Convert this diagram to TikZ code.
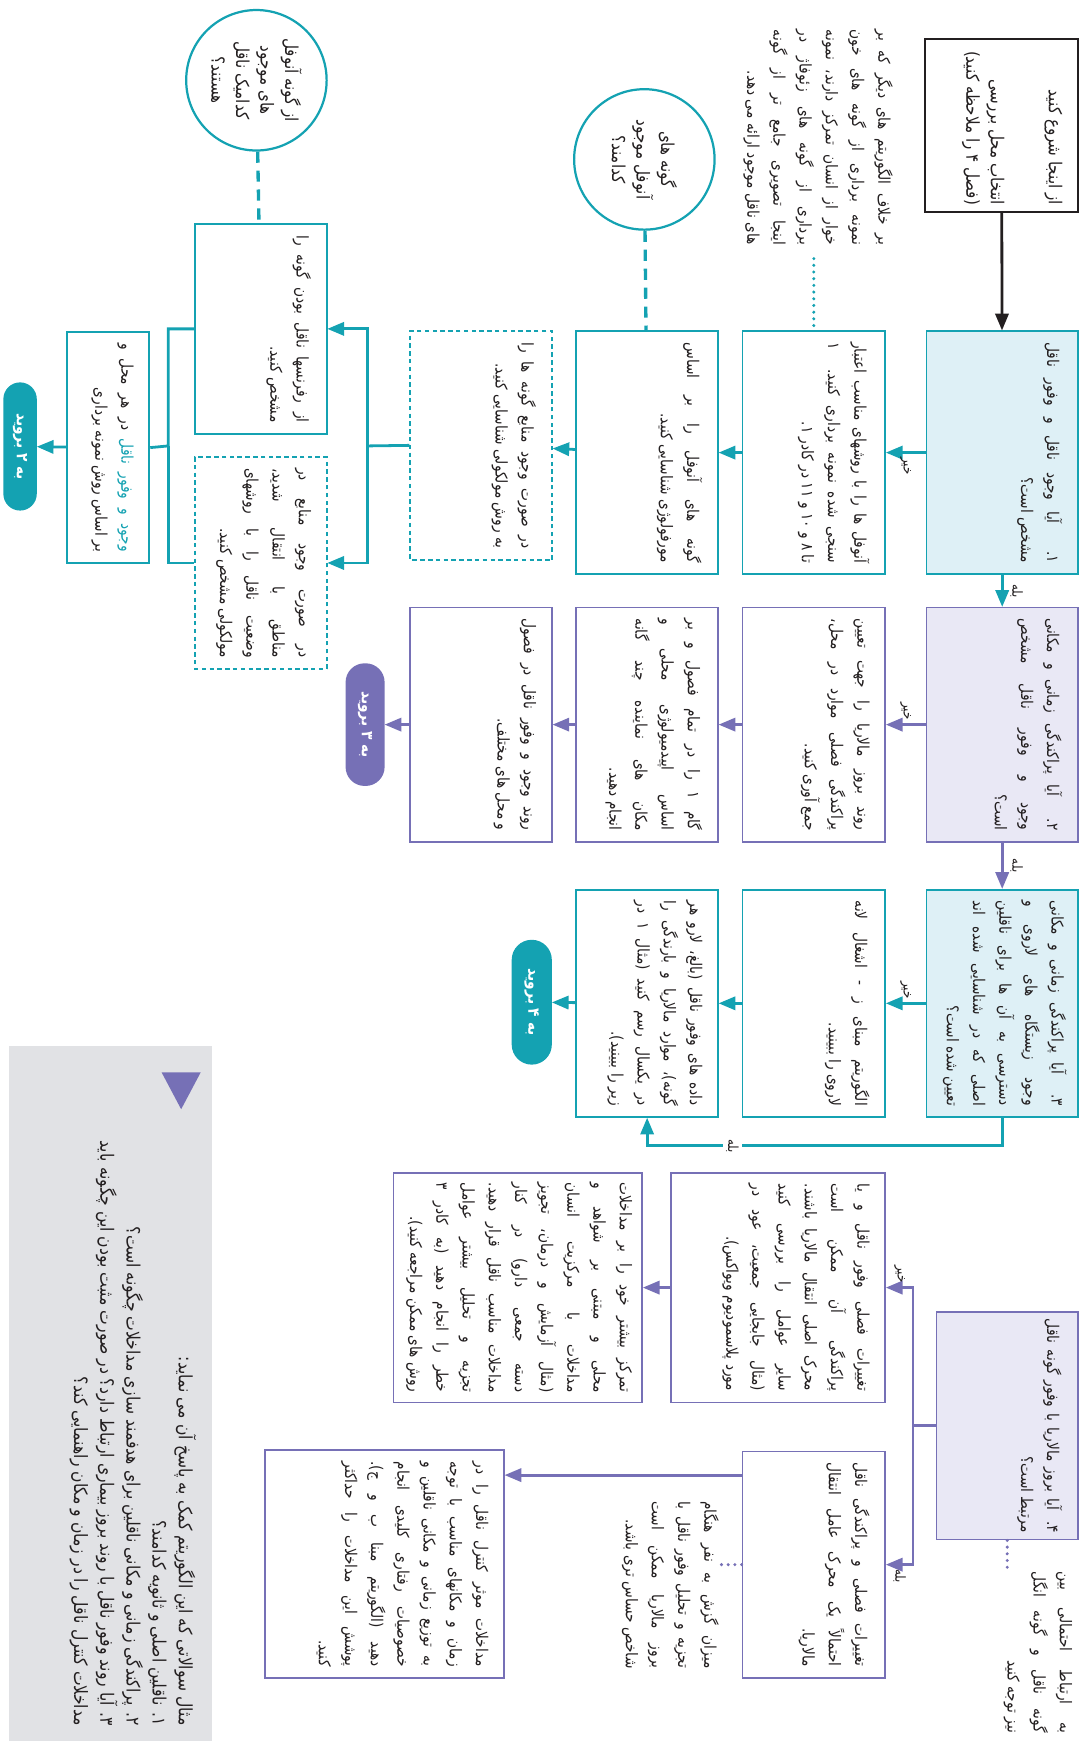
\documentclass[tikz,border=0pt]{standalone}
\usepackage{fontspec}
\usetikzlibrary{arrows,calc}
\newfontfamily\fa[Script=Arabic,FakeStretch=0.85]{DejaVu Sans}
\TeXXeTstate=1
\definecolor{fteal}{RGB}{20,162,178}
\definecolor{lblue}{RGB}{222,240,246}
\definecolor{fpurple}{RGB}{118,112,182}
\definecolor{lpurple}{RGB}{233,232,245}
\definecolor{lgray}{RGB}{225,226,229}
\definecolor{ink}{RGB}{35,31,32}
\newcommand\rl[1]{\beginR#1\endR}
\newcommand\fullln[1]{\hbox to\linewidth{\beginR#1\endR}}
\newcommand\lastln[1]{\hbox to\linewidth{\hfill\beginR#1\endR}}
\newcommand\bx[3]{\begin{minipage}[t][#2pt][t]{#1pt}#3\end{minipage}}
\newcommand\txt{\fa\fontsize{14.5}{23.5}\selectfont}
\newcommand\bigtxt{\fa\fontsize{16}{22}\selectfont}
\newcommand\lbltxt{\fa\fontsize{12.5}{14}\selectfont}

\begin{document}
\begin{tikzpicture}[x=1pt, y=1pt, rotate=-90, transform shape, >=triangle 45, font=\txt, text=ink,
  tbox/.style={draw=fteal, line width=1.6pt, fill=white, inner xsep=10pt, inner ysep=14pt},
  tq/.style={tbox, fill=lblue},
  pbox/.style={draw=fpurple, line width=1.6pt, fill=white, inner xsep=10pt, inner ysep=14pt},
  pq/.style={pbox, fill=lpurple},
  dbox/.style={tbox, dash pattern=on 4pt off 3pt},
  askc/.style={circle, draw=fteal, line width=2pt, minimum size=126pt, inner sep=0pt, align=center, font=\bigtxt},
  gobtn/.style={rounded corners=15pt, text=white, font=\txt\bfseries, inner sep=0pt},
  aside/.style={inner sep=0pt, anchor=north east},
  lbl/.style={font=\lbltxt, inner sep=3pt},
  tline/.style={draw=fteal, line width=2.5pt},
  pline/.style={draw=fpurple, line width=2.5pt},
  tarr/.style={tline, ->},
  parr/.style={pline, ->},
  tdot/.style={draw=fteal, line width=3pt, line cap=round, dash pattern=on 0pt off 6pt},
  pdot/.style={draw=fpurple, line width=3pt, line cap=round, dash pattern=on 0pt off 6pt},
  tdash/.style={draw=fteal, line width=3pt, dash pattern=on 10pt off 7pt}]
\useasboundingbox (0,0) rectangle (1568,974);

\node[tbox, draw=ink, line width=1.8pt, inner xsep=6pt, font=\bigtxt] (start) at (112.5,898.5) {\bx{143}{109}{\lastln{از اینجا شروع کنید}\vskip 30pt\lastln{انتخاب محل بررسی}\lastln{(فصل ۴ را ملاحظه کنید)}}};
\node[aside] (note1) at (220,801) {\bx{193}{130}{\fullln{بر خلاف الگوریتم های دیگر که بر}\fullln{نمونه برداری از گونه های خون}\fullln{خوار از انسان تمرکز دارند، نمونه}\fullln{برداری از گونه های زئوفاژ در}\fullln{اینجا تصویری جامع تر از گونه}\lastln{های ناقل موجود ارائه می دهد.}}};
\node[askc] (ask1) at (143,578) {\rl{گونه های}\\\rl{آنوفل موجود}\\\rl{کدامند؟}};
\node[askc] (ask2) at (72,230) {\rl{از گونه آنوفل}\\\rl{های موجود}\\\rl{کدامیک ناقل}\\\rl{هستند؟}};

\node[tq] (q1) at (406,899) {\bx{198}{108}{\fullln{۱. آیا وجود ناقل و وفور ناقل}\lastln{مشخص است؟}}};
\node[tbox] (a1) at (406,730) {\bx{198}{100}{\fullln{آنوفل ها را با روشهای مناسب اعتبار}\fullln{سنجی شده نمونه برداری کنید. ۱}\lastln{تا ۸ و ۱۰ و ۱۱ در کادر ۱.}}};
\node[tbox] (a2) at (406,580.5) {\bx{198}{99}{\fullln{گونه های آنوفل را بر اساس}\lastln{مورفولوژی شناسایی کنید.}}};
\node[dbox] (a3) at (399.5,431.5) {\bx{185}{99}{\fullln{در صورت وجود منابع گونه ها را}\lastln{به روش مولکولی شناسایی کنید.}}};
\node[tbox] (a4) at (295,234) {\bx{168}{90}{\fullln{از رفرنسها ناقل بودن گونه را}\lastln{مشخص کنید.}}};
\node[dbox] (a5) at (505,234) {\bx{170}{90}{\fullln{در صورت وجود منابع در}\fullln{مناطق با انتقال شدید،}\fullln{وضعیت ناقل را با روشهای}\lastln{مولکولی مشخص کنید.}}};
\node[tbox] (a6) at (401.5,97) {\bx{187}{46}{\hbox to\linewidth{\beginR در هر محل و\endR\space\textcolor{fteal}{\beginR وجود و وفور ناقل\endR}}\lastln{بر اساس روش نمونه برداری}}};
\node[gobtn, fill=fteal, minimum width=115pt, minimum height=30pt] (go2) at (400.5,18) {\rl{به ۲ بروید}};

\node[pq] (q2) at (650,899) {\bx{190}{108}{\fullln{۲. آیا پراکندگی زمانی و مکانی}\fullln{وجود و وفور ناقل مشخص}\lastln{است؟}}};
\node[pbox] (b1) at (650,730) {\bx{190}{100}{\fullln{روند بروز مالاریا را جهت تعیین}\fullln{پراکندگی فصلی موارد در محل،}\lastln{جمع آوری کنید.}}};
\node[pbox] (b2) at (650,580.5) {\bx{190}{99}{\fullln{گام ۱ را در تمام فصول و بر}\fullln{اساس اپیدمیولوژی محلی و}\fullln{مکان های نماینده چند گانه}\lastln{انجام دهید.}}};
\node[pbox] (b3) at (650,431.5) {\bx{190}{99}{\fullln{روند وجود و وفور ناقل در فصول}\lastln{و محل های مختلف.}}};
\node[gobtn, fill=fpurple, minimum width=110pt, minimum height=35pt, rounded corners=17pt] (go3) at (650,327.5) {\rl{به ۳ بروید}};

\node[tq, inner sep=10pt] (q3) at (900,899) {\bx{184}{116}{\fullln{۳. آیا پراکندگی زمانی و مکانی}\fullln{وجود زیستگاه های لاروی و}\fullln{دسترسی به آن ها برای ناقلین}\fullln{اصلی که در شناسایی شده اند}\lastln{تعیین شده است؟}}};
\node[tbox] (c1) at (900,730) {\bx{184}{100}{\fullln{الگوریتم مبنای ز - اشغال لانه}\lastln{لاروی را ببینید.}}};
\node[tbox] (c2) at (900,580.5) {\bx{184}{99}{\fullln{داده های وفور ناقل (بالغ، لارو هر}\fullln{گونه)، موارد مالاریا و بارندگی را}\fullln{در یکسال رسم کنید (مثال ۱ در}\lastln{زیر را ببینید).}}};
\node[gobtn, fill=fteal, minimum width=112pt, minimum height=36pt, rounded corners=18pt] (go4) at (899,477) {\rl{به ۴ بروید}};

\node[pq, inner xsep=6pt] (q4) at (1279,903.5) {\bx{192}{99}{\fullln{۴. آیا بروز مالاریا با وفور گونه ناقل}\lastln{مرتبط است؟}}};
\node[aside] (note3) at (1555,962) {\bx{145}{70}{\fullln{به ارتباط احتمالی بین}\fullln{گونه ناقل و گونه انگل}\lastln{نیز توجه کنید}}};
\node[pbox] (d1) at (1155,698) {\bx{186}{164}{\fullln{تغییرات فصلی وفور ناقل و یا}\fullln{پراکندگی آن ممکن است}\fullln{محرک اصلی انتقال مالاریا باشند.}\fullln{سایر عوامل را بررسی کنید}\fullln{(مثال جابجایی جمعیت، عود در}\lastln{مورد پلاسمودیوم ویواکس).}}};
\node[pbox, inner sep=9pt] (d3) at (1155,464.5) {\bx{188}{205}{\fullln{تمرکز بیشتر خود را بر مداخلات}\fullln{محلی و مبتنی بر شواهد و}\fullln{مداخلات با مرکزیت انسان}\fullln{(مثال آزمایش و درمان، تجویز}\fullln{دسته جمعی دارو) در کنار}\fullln{مداخلات مناسب ناقل قرار دهید.}\fullln{تجزیه و تحلیل بیشتر عوامل}\fullln{خطر را انجام دهید (به کادر ۳}\lastln{روش های ممکن مراجعه کنید).}}};
\node[pbox] (d2) at (1403.5,730) {\bx{183}{100}{\fullln{تغییرات فصلی و پراکندگی ناقل}\fullln{احتمالاً یک محرک عامل انتقال}\lastln{مالاریا.}}};
\node[aside] (note2) at (1497,645) {\bx{150}{90}{\fullln{میزان گزش به نفر هنگام}\fullln{تجزیه و تحلیل وفور ناقل با}\fullln{بروز مالاریا ممکن است}\lastln{شاخص حساس تری باشد.}}};
\node[pbox] (d4) at (1403,345) {\bx{184}{186}{\fullln{مداخلات موثر کنترل ناقل را در}\fullln{زمان و مکانهای مناسب با توجه}\fullln{به توزیع زمانی و مکانی ناقلین و}\fullln{خصوصیات رفتاری کلیدی انجام}\fullln{دهید (الگوریتم مبنا ب و ج).}\fullln{پوشش این مداخلات را حداکثر}\lastln{کنید.}}};

\node[fill=lgray, inner sep=14pt, font=\fa\fontsize{16.5}{23.5}\selectfont] (legend) at (1250,99) {\bx{596}{154}{\lastln{مثال سوالاتی که این الگوریتم کمک به پاسخ آن می نماید:}\lastln{۱. ناقلین اصلی و ثانویه کدامند؟}\lastln{۲. پراکندگی زمانی و مکانی ناقلین برای هدفمند سازی مداخلات چگونه است؟}\lastln{۳. آیا روند وفور ناقل با روند بروز بیماری ارتباط دارد؟ در صورت مثبت بودن این چگونه باید}\lastln{مداخلات کنترل ناقل را در زمان و مکان راهنمایی کند؟}}};
\fill[fpurple] (962,180) -- (962,145) -- (995,162.5) -- cycle;

\draw [->, draw=ink, line width=2.5pt](start) -- (q1);
\draw [tarr](q1) -- (q2) node[lbl, above=3pt, pos=.5]{\rl{بله}};
\draw [tarr](q1) -- (a1) node[lbl, right, pos=.5]{\rl{خیر}};
\draw [tarr](a1) -- (a2);
\draw [tarr](a2) -- (a3);
\draw [tdot, shorten <=12pt](note1.east |- a1.west) -- (a1.west);
\draw [tdash](ask1) -- (a2);
\draw [tdash](ask2) -- (a4);
\coordinate (j1) at (400,330);
\coordinate (j2) at (400,151);
\draw [tline](a3.south) -- (j1);
\draw [tarr](j1) -| (a4.north);
\draw [tarr](j1) -| (a5.north);
\draw [tline](a4.south) |- (j2) -- (a6.north);
\draw [tline](a5.south) |- (j2);
\draw [tarr](a6) -- (go2);

\draw [parr](q2) -- (q3) node[lbl, above=3pt, pos=.5]{\rl{بله}};
\draw [parr](q2) -- (b1) node[lbl, left, pos=.5]{\rl{خیر}};
\draw [parr](b1) -- (b2);
\draw [parr](b2) -- (b3);
\draw [parr](b3) -- (go3);

\draw [tarr](q3) -- (c1) node[lbl, left, pos=.5]{\rl{خیر}};
\draw [tarr](c1) -- (c2);
\draw [tarr](c2) -- (go4);
\draw [tarr](q3.east) -- ++(25,0) |- node[lbl, fill=white, pos=.38]{\rl{بله}} (c2.east);

\coordinate (j3) at (1279,819);
\draw [pline](q4) -- (j3);
\draw [parr](j3) -| node[lbl, left, pos=.75]{\rl{خیر}} (d1.north);
\draw [parr](j3) -| node[lbl, right, pos=.75]{\rl{بله}} (d2.north);
\draw [parr](d1) -- (d3);
\coordinate (t4) at ($(d2.south west)+(22,0)$);
\draw [parr](t4) -- (t4 |- d4.north);
\draw [pdot](d2.south) -- (d2.south |- note2.north);
\draw [pdot](q4.east) -- (note3.west |- q4.east);
\end{tikzpicture}
\end{document}
